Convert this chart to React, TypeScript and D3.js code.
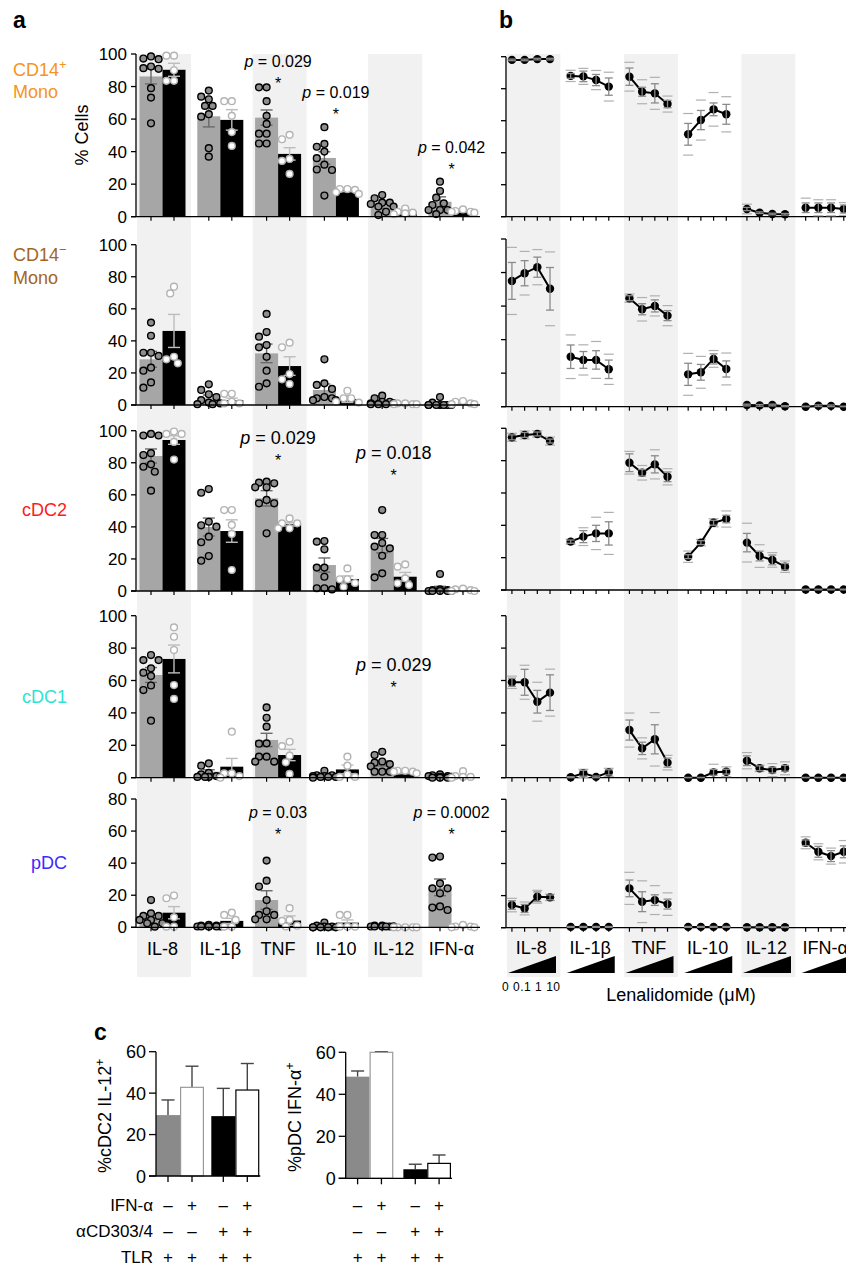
import React from 'react';
import * as d3 from 'd3';

// ---------------- DATA ----------------
const cytokines = ['IL-8', 'IL-1β', 'TNF', 'IL-10', 'IL-12', 'IFN-α'];
const cellTypes = ['CD14+ Mono', 'CD14− Mono', 'cDC2', 'cDC1', 'pDC'];
const yTickValues = [
  [0, 20, 40, 60, 80, 100],
  [0, 20, 40, 60, 80, 100],
  [0, 20, 40, 60, 80, 100],
  [0, 20, 40, 60, 80, 100],
  [0, 20, 40, 60, 80],
];
const doses = ['0', '0.1', '1', '10'];

// panel a: grey group (n = 9) and black group (n = 5)
const greyMean = [
  [86.2, 61.7, 60.9, 36.1, 6.6, 9.2],
  [28.5, 4.2, 32.2, 9.4, 1.5, 0.5],
  [84.2, 39.9, 57.8, 16.2, 28.3, 1.7],
  [63.4, 3.7, 23.3, 1.2, 8.8, 0.8],
  [6.2, 0.8, 17, 0.6, 0.5, 24.9],
];
const greySem = [
  [4.6, 6.5, 4.7, 3.8, 1.5, 3],
  [5, 2, 5.8, 3.7, 0.7, 0.5],
  [4.4, 5.6, 4.8, 4.4, 4.5, 1.2],
  [4.6, 1.2, 4.1, 0.5, 1.5, 0.3],
  [1.6, 0.2, 5.8, 0.4, 0.1, 5.2],
];
const greyDots = [
  [
    [98.5, 96.8, 97.2, 92.3, 90.9, 91.3, 79, 73.2, 57.4],
    [77.5, 72.2, 73.8, 63, 68.1, 68.1, 61.5, 42.1, 36.9],
    [79.5, 79.5, 71, 62, 57, 51, 51, 45, 45],
    [55, 44.7, 43, 40, 36, 32, 29, 28.7, 13],
    [13.3, 11.3, 8.6, 8.6, 7.8, 6.2, 6.2, 3, 1],
    [21.5, 15.8, 11.7, 8.2, 7.2, 4.1, 4.1, 4.1, 1.6],
  ],
  [
    [51.4, 43.2, 32.6, 32.6, 30.6, 23.3, 21.4, 14.1, 10.8],
    [12.9, 9.4, 6.7, 5, 3, 1.5, 1, 0.5, 0.5],
    [56.8, 45.5, 42.6, 37.4, 36, 30.1, 21.4, 13.5, 11.4],
    [28.5, 13.5, 12.5, 10, 5, 4.2, 4.2, 3, 3],
    [5.8, 4.2, 2, 2, 1, 1, 0.5, 0.5, 0.5],
    [5, 1.5, 0, 0, 0, 0, 0, 0, 0],
  ],
  [
    [98, 97, 97, 86, 84.8, 79, 77.5, 74.4, 62.6],
    [63.6, 61.3, 43.2, 41, 40.1, 33.9, 30.4, 21.8, 18.9],
    [68.2, 67.6, 67.2, 64.7, 64.7, 56.8, 54.7, 54.7, 36],
    [31.2, 30.8, 26, 14.6, 14.6, 8.9, 1.7, 1.7, 1],
    [50.5, 34.9, 34.9, 30, 27.7, 26.6, 22, 11, 8.5],
    [10.6, 1, 0.5, 0.5, 0, 0, 0, 0, 0],
  ],
  [
    [75.7, 72.6, 72.6, 67.5, 64.8, 62.8, 56.9, 54.1, 35.2],
    [8.8, 7.4, 3, 2, 1, 0.5, 0.5, 0.5, 0.5],
    [43.4, 37, 31.5, 21.2, 21, 13, 13, 9.9, 9.9],
    [4.3, 1.5, 1.5, 1, 1, 0.5, 0.5, 0.5, 0],
    [16, 14, 10, 9.3, 8.4, 7, 3.7, 3.7, 3.7],
    [2, 1.5, 1, 1, 0.5, 0.5, 0, 0, 0],
  ],
  [
    [17, 8.7, 7.1, 7.1, 4.6, 4.6, 2.5, 2.5, 0.4],
    [1.5, 1, 1, 0.5, 0.5, 0.5, 0.5, 0.5, 0.5],
    [41.6, 29.1, 25.4, 17, 10, 7.7, 7.7, 5, 5],
    [3, 1, 0.5, 0.5, 0, 0, 0, 0, 0],
    [1, 1, 0.5, 0.5, 0.5, 0.5, 0.5, 0.5, 0.5],
    [44.1, 43.5, 27.4, 24.3, 24.3, 21.2, 13, 12.3, 10.8],
  ],
];
const blackMean = [
  [90.3, 59.5, 38.6, 16.4, 3.1, 3.5],
  [46.2, 3.1, 24.3, 3.7, 0.5, 0.5],
  [94.2, 37.4, 41.6, 7.5, 8.9, 0.3],
  [73.3, 6.8, 14, 5.1, 3.1, 0.5],
  [9.1, 4, 4.2, 2.9, 0, 0.3],
];
const blackSem = [
  [4, 6.3, 3.8, 1, 1, 0.6],
  [10.3, 1.2, 5.8, 2.1, 0.3, 0.4],
  [2.7, 7, 1, 1.9, 2.7, 0.3],
  [8.6, 5.1, 3.5, 2.7, 0.6, 0.6],
  [3.8, 1.6, 2.9, 1.7, 0, 0.3],
];
const blackDots = [
  [
    [99, 99, 90, 83.5, 83.5],
    [71, 71, 62, 52, 43.5],
    [50.3, 47.6, 35.5, 34.3, 26.3],
    [17, 17, 16.5, 15, 14],
    [5, 3, 2.5, 2, 1.5],
    [4.5, 3.5, 3, 3, 2.5],
  ],
  [
    [73.8, 69.6, 30.1, 28.5, 26],
    [7, 7, 2, 1, 1],
    [38.9, 36, 19.3, 16, 13.1],
    [8.9, 4.2, 4.2, 2, 1.5],
    [1, 1, 0.5, 0.5, 0.5],
    [2.5, 2, 1, 0.5, 0.5],
  ],
  [
    [99.5, 98, 98, 93, 82],
    [50.5, 50.5, 41.2, 35.6, 13.1],
    [45.3, 42.2, 42.2, 39.1, 39.1],
    [14.1, 7.3, 7.3, 5, 2.6],
    [16.6, 15.2, 7.9, 4.8, 3.7],
    [1.5, 1, 0.5, 0, 0],
  ],
  [
    [92.8, 87, 78.8, 57.2, 48.6],
    [28.4, 2.7, 2.7, 1, 0],
    [22.2, 19.5, 13.6, 9.5, 2.3],
    [13, 7.4, 2, 0.5, 0.5],
    [4.3, 4.3, 3.7, 3.7, 2.7],
    [4, 1, 0.5, 0.5, 0],
  ],
  [
    [19.8, 18.1, 6.2, 0.4, 0.4],
    [9.1, 7.7, 4.6, 0.4, 0.4],
    [11.9, 4.6, 4, 1, 0.5],
    [7.7, 7.7, 0.4, 0.4, 0.4],
    [0, 0, 0, 0, 0],
    [1.5, 0.5, 0.5, 0, 0],
  ],
];
const pValues = [
  { row: 0, cyt: 'TNF', p: '0.029', level: 92.3, size: 16 },
  { row: 0, cyt: 'IL-10', p: '0.019', level: 73.2, size: 16 },
  { row: 0, cyt: 'IFN-α', p: '0.042', level: 39.4, size: 16 },
  { row: 2, cyt: 'TNF', p: '0.029', level: 91.5, size: 18 },
  { row: 2, cyt: 'IL-12', p: '0.018', level: 82.2, size: 18 },
  { row: 3, cyt: 'IL-12', p: '0.029', level: 65.7, size: 18 },
  { row: 4, cyt: 'TNF', p: '0.03', level: 68.4, size: 16 },
  { row: 4, cyt: 'IFN-α', p: '0.0002', level: 68.4, size: 16 },
];

// panel b: lenalidomide dose response (mean, SEM, SD)
const doseMean = [
  [[98, 98, 98.5, 98.5], [88, 87.7, 85.4, 81.3], [87.5, 78.1, 77.1, 70.4], [51.5, 60.4, 67.1, 64], [4.8, 2.5, 1.7, 1.5], [5.6, 5.6, 5.6, 4.8]],
  [[75, 79.6, 83.2, 70.3], [29.8, 27.9, 27.9, 22.3], [64.7, 58.1, 60.1, 54.3], [19.3, 20.5, 28.5, 22.5], [1, 0.8, 1, 0.3], [0, 0.6, 0.5, 0]],
  [[94.4, 95.9, 96.5, 92.1], [29.9, 33, 35, 35], [78.7, 72.5, 77.7, 70], [20.6, 29.3, 41.6, 43.9], [29.3, 21, 18.6, 14.4], [0.3, 0.3, 0.3, 0.3]],
  [[58.9, 58.9, 46.9, 52.5], [0.3, 2.7, 0.5, 3.3], [29.4, 18.1, 23.7, 9.3], [0, 0, 3.3, 3.7], [10.5, 5.8, 4.7, 5.8], [0, 0, 0, 0]],
  [[14.1, 12, 19.3, 18.9], [0.5, 0.5, 0.5, 0.5], [24.5, 16.2, 17.2, 14.7], [0.5, 0.5, 0.5, 0.5], [0.3, 0.3, 0.3, 0.3], [52.9, 47.3, 44.6, 47.3]],
];
const doseSem = [
  [[0.5, 0.5, 0.5, 0.5], [1.5, 3.3, 3.5, 5.4], [5.4, 2.8, 6, 2.3], [6.8, 6, 4, 6.2], [1, 0.5, 0.5, 0.5], [3, 3, 3, 2.5]],
  [[11, 7.5, 6, 12.7], [7, 5, 5.5, 5.5], [1.5, 3.3, 3.6, 3], [6.6, 4.7, 3, 4.8], [0.5, 0.5, 0.5, 0.3], [0.3, 0.5, 0.5, 0.3]],
  [[1.5, 1.5, 1.2, 1.2], [1, 3.7, 5, 7.2], [5.5, 2, 5.3, 3], [1.2, 1.2, 1.5, 2.3], [5.7, 3, 3, 2], [0.2, 0.2, 0.2, 0.2]],
  [[2.5, 8, 7, 11], [0.3, 1.8, 0.5, 1.6], [6.2, 3.8, 9, 2.8], [0.2, 0.2, 1.8, 1.5], [3, 1.5, 1.8, 1.8], [0.2, 0.2, 0.2, 0.2]],
  [[2.7, 2.5, 3, 1.5], [0.3, 0.3, 0.3, 0.3], [5.2, 6.2, 3.3, 3.1], [0.3, 0.3, 0.3, 0.3], [0.2, 0.2, 0.2, 0.2], [1.8, 3.4, 3.4, 3.7]],
];
const doseSd = [
  [[1, 1, 1, 1], [3.5, 5, 6, 9], [9, 7.5, 10, 5], [13, 12.5, 10.5, 11], [3, 1, 1, 1], [6, 5, 5, 4]],
  [[20, 13, 10.5, 22], [13, 9, 11, 9], [2.5, 7, 6, 6], [12.5, 9.5, 5, 9.5], [1, 1, 1, 0.5], [0.5, 1, 1, 0.5]],
  [[2.5, 2.5, 2, 2.5], [1.5, 5.5, 10, 13], [7, 4.5, 9, 5], [3.5, 2, 2.5, 5], [12, 7, 4.5, 3.5], [0.4, 0.4, 0.4, 0.4]],
  [[3.8, 10.5, 12, 14.5], [0.5, 2.5, 1, 2.5], [10.5, 6.5, 16.5, 4.5], [0.5, 0.5, 5, 3], [5, 2, 4, 4], [0.3, 0.3, 0.3, 0.3]],
  [[4.2, 4, 4, 2], [0.5, 0.5, 0.5, 0.5], [10, 13, 9, 7], [0.5, 0.5, 0.5, 0.5], [0.3, 0.3, 0.3, 0.3], [3.7, 5, 5, 7]],
];

// panel c
const conditionRows = ['IFN-α', 'αCD303/4', 'TLR'];
const condIFN = ['–', '+', '–', '+'];
const condAb = ['–', '–', '+', '+'];
const condTLR = ['+', '+', '+', '+'];
const il12Mean = [29.4, 42.8, 28.9, 41.5];
const il12Err = [7.3, 10.2, 13.4, 12.8];
const ifnMean = [48.4, 60, 4.3, 7.1];
const ifnErr = [2.7, 0.3, 2.4, 4];
const cTicks = [0, 20, 40, 60];

// ---------------- LAYOUT / STYLE ----------------
const FONT = '"Liberation Sans", Arial, Helvetica, sans-serif';
const rowsA = [
  { zero: 216.7, top: 54, max: 100 },
  { zero: 405, top: 244.7, max: 100 },
  { zero: 591, top: 430.7, max: 100 },
  { zero: 777.7, top: 615.7, max: 100 },
  { zero: 927.3, top: 799, max: 80 },
];
const rowsB = [
  { zero: 216.7, top: 56.7, max: 100 },
  { zero: 406.7, top: 239, max: 100 },
  { zero: 590, top: 428.3, max: 100 },
  { zero: 777.7, top: 615.7, max: 100 },
  { zero: 927.7, top: 799.3, max: 80 },
];
const rowLabelStyle = [
  { color: '#F7941D', x: 13, ys: [76, 98] },
  { color: '#A3661D', x: 13, ys: [261, 284] },
  { color: '#FF1A1A', x: 22, ys: [516] },
  { color: '#2FE3D3', x: 22, ys: [703] },
  { color: '#3B2BFF', x: 31, ys: [869] },
];
const BAND = '#f1f1f1';
const GREY_BAR = '#a6a6a6';
const AXIS_A_X = 136;
const AXIS_B_X = 506;
const TABLE_Y0 = 1210.5;
const TABLE_DY = 26;

function swarm(vals: number[], ys: (v: number) => number, cx: number, r: number) {
  const d = 2 * r + 0.4;
  const order = vals.map((_, i) => i).sort((a, b) => vals[b] - vals[a]);
  const placed: { x: number; y: number }[] = [];
  const res: { x: number; y: number }[] = new Array(vals.length);
  const cands = [0, -d / 2, d / 2, -d, d, -1.5 * d, 1.5 * d];
  for (const i of order) {
    const y = ys(vals[i]);
    let best = 0;
    let bs = Infinity;
    for (const c of cands) {
      let ov = 0;
      for (const p of placed) {
        const dist = Math.hypot(p.x - c, p.y - y);
        if (dist < d) ov += d - dist;
      }
      const s = ov * 100 + Math.abs(c);
      if (s < bs) {
        bs = s;
        best = c;
      }
    }
    placed.push({ x: best, y });
    res[i] = { x: cx + best, y };
  }
  return res;
}

function RowLabel({ i }: { i: number }) {
  const st = rowLabelStyle[i];
  const name = cellTypes[i];
  if (name.startsWith('CD14')) {
    const sup = name.charAt(4);
    return (
      <g fill={st.color} fontSize={18}>
        <text x={st.x} y={st.ys[0]}>
          CD14<tspan dy={-7} fontSize={13}>{sup}</tspan>
        </text>
        <text x={st.x} y={st.ys[1]}>{name.split(' ')[1]}</text>
      </g>
    );
  }
  return (
    <text x={st.x} y={st.ys[0]} fill={st.color} fontSize={18}>
      {name}
    </text>
  );
}

function PanelC({
  x0, x1, zero, top, gapFrac, means, errs, label,
}: {
  x0: number; x1: number; zero: number; top: number; gapFrac: number;
  means: number[]; errs: number[]; label: string;
}) {
  const y = d3.scaleLinear().domain([0, 60]).range([zero, top]);
  const outer = d3.scaleBand<number>().domain([0, 1]).range([x0, x1]).paddingInner(gapFrac).paddingOuter(0);
  const inner = d3.scaleBand<number>().domain([0, 1]).range([0, outer.bandwidth()]);
  const bx = (i: number) => (outer(Math.floor(i / 2)) as number) + (inner(i % 2) as number);
  const bw = inner.bandwidth();
  const fills = ['#8a8a8a', '#ffffff', '#000000', '#ffffff'];
  const strokes = ['none', '#9a9a9a', 'none', '#000000'];
  return (
    <g>
      {means.map((m, i) => {
        const cx = bx(i) + bw / 2;
        return (
          <g key={i}>
            <line x1={cx} x2={cx} y1={y(m)} y2={y(m + errs[i])} stroke="#444" strokeWidth={1.4} />
            <line x1={cx - 6.5} x2={cx + 6.5} y1={y(m + errs[i])} y2={y(m + errs[i])} stroke="#444" strokeWidth={1.4} />
            <rect x={bx(i) + (strokes[i] === 'none' ? 0 : 0.6)} y={y(m)} width={bw - (strokes[i] === 'none' ? 0 : 1.2)} height={zero - y(m)}
              fill={fills[i]} stroke={strokes[i]} strokeWidth={1.2} />
          </g>
        );
      })}
      <line x1={x0} x2={x0} y1={zero} y2={top} stroke="#000" strokeWidth={1.3} />
      <line x1={x0 - 7} x2={x1 + 1} y1={zero} y2={zero} stroke="#000" strokeWidth={1.3} />
      {cTicks.map((t) => (
        <g key={t}>
          <line x1={x0 - 7} x2={x0} y1={y(t)} y2={y(t)} stroke="#000" strokeWidth={1.3} />
          <text x={x0 - 10} y={y(t) + 6.5} textAnchor="end" fontSize={18}>{t}</text>
        </g>
      ))}
      {means.map((_, i) => {
        const cx = bx(i) + bw / 2;
        return <line key={i} x1={cx} x2={cx} y1={zero} y2={zero + 6} stroke="#000" strokeWidth={1.3} />;
      })}
      {[condIFN, condAb, condTLR].map((row, r) =>
        row.map((s, i) => (
          <text key={r + '-' + i} x={bx(i) + bw / 2} y={TABLE_Y0 + r * TABLE_DY} textAnchor="middle" fontSize={17}>{s}</text>
        )),
      )}
      <text transform={`translate(${x0 - 45},${(zero + top) / 2 + 2}) rotate(-90)`} textAnchor="middle" fontSize={18}>
        {label}<tspan dy={-7} fontSize={12}>+</tspan>
      </text>
    </g>
  );
}

export default function App() {
  const W = 846;
  const H = 1265;
  const xA = d3.scaleBand<string>().domain(cytokines).range([133.6, 480.4]);
  const xB = d3.scaleBand<string>().domain(cytokines).range([502, 854.5]);
  const cA = (c: string) => (xA(c) as number) + xA.bandwidth() / 2;
  const cB = (c: string) => (xB(c) as number) + xB.bandwidth() / 2;
  const yA = rowsA.map((r) => d3.scaleLinear().domain([0, r.max]).range([r.zero, r.top]));
  const yB = rowsB.map((r) => d3.scaleLinear().domain([0, r.max]).range([r.zero, r.top]));
  const barW = 23;
  const pointX = (c: string, i: number) => cB(c) + (i - 1.5) * 12.7 - 0.4;
  const lineGen = d3.line<[number, number]>().x((d) => d[0]).y((d) => d[1]);

  return (
    <svg width={W} height={H} viewBox={`0 0 ${W} ${H}`} style={{ position: 'absolute', left: 0, top: 0, background: '#fff' }}
      fontFamily={FONT}>
      <rect width={W} height={H} fill="#fff" />
      {/* shaded bands */}
      {cytokines.map((c, i) =>
        i % 2 === 0 ? (
          <g key={c}>
            <rect x={Math.max(cA(c) - 25.5, AXIS_A_X + 1)} y={54} width={cA(c) + 28.5 - Math.max(cA(c) - 25.5, AXIS_A_X + 1)} height={923} fill={BAND} />
            <rect x={Math.max(cB(c) - 25, AXIS_B_X + 1)} y={54} width={cB(c) + 29 - Math.max(cB(c) - 25, AXIS_B_X + 1)} height={923} fill={BAND} />
          </g>
        ) : null,
      )}

      {/* panel letters */}
      <text x={13} y={28} fontSize={23} fontWeight="bold">a</text>
      <text x={499} y={28} fontSize={23} fontWeight="bold">b</text>
      <text x={94} y={1040} fontSize={23} fontWeight="bold">c</text>

      {/* y label */}
      <text transform="translate(88,135) rotate(-90)" textAnchor="middle" fontSize={18}>% Cells</text>

      {/* ---------- panel a ---------- */}
      {cellTypes.map((ct, r) => {
        const ys = yA[r];
        const row = rowsA[r];
        return (
          <g key={ct}>
            <RowLabel i={r} />
            {cytokines.map((c, k) => {
              const cx = cA(c);
              const gx = cx - barW;
              const kx = cx;
              const gm = greyMean[r][k];
              const km = blackMean[r][k];
              const gs = greySem[r][k];
              const ks = blackSem[r][k];
              const gDots = swarm(greyDots[r][k], ys, gx + barW / 2, 3.6);
              const kDots = swarm(blackDots[r][k], ys, kx + barW / 2, 3.6);
              return (
                <g key={c}>
                  <rect x={gx} y={ys(gm)} width={barW} height={row.zero - ys(gm)} fill={GREY_BAR} />
                  <rect x={kx} y={ys(km)} width={barW} height={row.zero - ys(km)} fill="#000" />
                  {gs > 0.3 && (
                    <g stroke="#6a6a6a" strokeWidth={1.4}>
                      <line x1={gx + barW / 2} x2={gx + barW / 2} y1={ys(Math.max(0, gm - gs))} y2={ys(gm + gs)} />
                      <line x1={gx + barW / 2 - 6} x2={gx + barW / 2 + 6} y1={ys(gm + gs)} y2={ys(gm + gs)} />
                      <line x1={gx + barW / 2 - 6} x2={gx + barW / 2 + 6} y1={ys(Math.max(0, gm - gs))} y2={ys(Math.max(0, gm - gs))} />
                    </g>
                  )}
                  {ks > 0.3 && (
                    <g stroke="#bdbdbd" strokeWidth={1.4}>
                      <line x1={kx + barW / 2} x2={kx + barW / 2} y1={ys(Math.max(0, km - ks))} y2={ys(km + ks)} />
                      <line x1={kx + barW / 2 - 6} x2={kx + barW / 2 + 6} y1={ys(km + ks)} y2={ys(km + ks)} />
                      <line x1={kx + barW / 2 - 6} x2={kx + barW / 2 + 6} y1={ys(Math.max(0, km - ks))} y2={ys(Math.max(0, km - ks))} />
                    </g>
                  )}
                  {gDots.map((d, j) => (
                    <circle key={'g' + j} cx={d.x} cy={d.y} r={3.4} fill="#8e8e8e" stroke="#000" strokeWidth={1.4} />
                  ))}
                  {kDots.map((d, j) => (
                    <circle key={'k' + j} cx={d.x} cy={d.y} r={3.4} fill="#fff" stroke="#b4b4b4" strokeWidth={1.4} />
                  ))}
                  <line x1={gx + barW / 2} x2={gx + barW / 2} y1={row.zero} y2={row.zero + 4} stroke="#000" strokeWidth={1.2} />
                  <line x1={kx + barW / 2} x2={kx + barW / 2} y1={row.zero} y2={row.zero + 4} stroke="#000" strokeWidth={1.2} />
                </g>
              );
            })}
            {/* axes */}
            <line x1={AXIS_A_X} x2={AXIS_A_X} y1={row.zero} y2={row.top} stroke="#000" strokeWidth={1.3} />
            <line x1={AXIS_A_X - 5} x2={480} y1={row.zero} y2={row.zero} stroke="#000" strokeWidth={1.3} />
            {yTickValues[r].map((t) => (
              <g key={t}>
                <line x1={AXIS_A_X - 5} x2={AXIS_A_X} y1={ys(t)} y2={ys(t)} stroke="#000" strokeWidth={1.3} />
                <text x={AXIS_A_X - 9} y={ys(t) + 6} textAnchor="end" fontSize={17}>{t}</text>
              </g>
            ))}
          </g>
        );
      })}

      {/* p-values */}
      {pValues.map((a, i) => {
        const x = cA(a.cyt);
        const y = yA[a.row](a.level);
        return (
          <g key={i}>
            <text x={x} y={y} textAnchor="middle" fontSize={a.size}>
              <tspan fontStyle="italic">p</tspan> = {a.p}
            </text>
            <text x={x} y={y + 22} textAnchor="middle" fontSize={16}>*</text>
          </g>
        );
      })}

      {/* x labels panel a */}
      {cytokines.map((c) => (
        <text key={c} x={cA(c)} y={955} textAnchor="middle" fontSize={18}>{c}</text>
      ))}

      {/* ---------- panel b ---------- */}
      {cellTypes.map((ct, r) => {
        const ys = yB[r];
        const row = rowsB[r];
        return (
          <g key={ct}>
            <line x1={AXIS_B_X} x2={AXIS_B_X} y1={row.zero} y2={row.top} stroke="#000" strokeWidth={1.3} />
            <line x1={AXIS_B_X - 5} x2={W} y1={row.zero} y2={row.zero} stroke="#000" strokeWidth={1.3} />
            {yTickValues[r].map((t) => (
              <line key={t} x1={AXIS_B_X - 5} x2={AXIS_B_X} y1={ys(t)} y2={ys(t)} stroke="#000" strokeWidth={1.3} />
            ))}
            {cytokines.map((c, k) => {
              const m = doseMean[r][k];
              const se = doseSem[r][k];
              const sd = doseSd[r][k];
              const pts: [number, number][] = m.map((v, i) => [pointX(c, i), ys(v)]);
              return (
                <g key={c}>
                  {doses.map((_, i) => (
                    <line key={'t' + i} x1={pointX(c, i)} x2={pointX(c, i)} y1={row.zero} y2={row.zero + 4} stroke="#000" strokeWidth={1.2} />
                  ))}
                  {m.map((v, i) =>
                    sd[i] > 1.2 ? (
                      <g key={'sd' + i} stroke="#b0b0b0" strokeWidth={1.2}>
                        <line x1={pointX(c, i) - 5} x2={pointX(c, i) + 5} y1={ys(v + sd[i])} y2={ys(v + sd[i])} />
                        {v - sd[i] > 0 && (
                          <line x1={pointX(c, i) - 5} x2={pointX(c, i) + 5} y1={ys(v - sd[i])} y2={ys(v - sd[i])} />
                        )}
                      </g>
                    ) : null,
                  )}
                  <path d={lineGen(pts) || ''} fill="none" stroke="#000" strokeWidth={2} />
                  {pts.map((p, i) => (
                    <circle key={'p' + i} cx={p[0]} cy={p[1]} r={4.2} fill="#000" />
                  ))}
                  {m.map((v, i) => {
                    const x = pointX(c, i);
                    const lo = ys(Math.max(0, v - se[i]));
                    const hi = ys(v + se[i]);
                    return (
                      <g key={'e' + i} stroke="#8a8a8a" strokeWidth={1.3}>
                        <line x1={x} x2={x} y1={lo} y2={hi} />
                        <line x1={x - 4} x2={x + 4} y1={hi} y2={hi} />
                        <line x1={x - 4} x2={x + 4} y1={lo} y2={lo} />
                      </g>
                    );
                  })}
                </g>
              );
            })}
          </g>
        );
      })}

      {/* x labels + wedges panel b */}
      {cytokines.map((c) => {
        const cx = cB(c);
        return (
          <g key={c}>
            <text x={cx} y={954} textAnchor="middle" fontSize={18}>{c}</text>
            <path d={`M${cx - 23.4},973 L${cx + 24.6},956 L${cx + 24.6},973 Z`} fill="#000" />
          </g>
        );
      })}
      <text x={502} y={991} fontSize={12} textLength={58} lengthAdjust="spacing">{doses.join(' ')}</text>
      <text x={681} y={1001} textAnchor="middle" fontSize={18}>Lenalidomide (μM)</text>

      {/* ---------- panel c ---------- */}
      {conditionRows.map((t, i) => (
        <text key={t} x={153} y={TABLE_Y0 + i * TABLE_DY} textAnchor="end" fontSize={17}>{t}</text>
      ))}
      <PanelC x0={156} x1={259.3} zero={1176} top={1051.7} gapFrac={0.132} means={il12Mean} errs={il12Err} label="%cDC2 IL-12" />
      <PanelC x0={345.7} x1={451} zero={1178.3} top={1052.3} gapFrac={0.174} means={ifnMean} errs={ifnErr} label="%pDC IFN-α" />
    </svg>
  );
}
